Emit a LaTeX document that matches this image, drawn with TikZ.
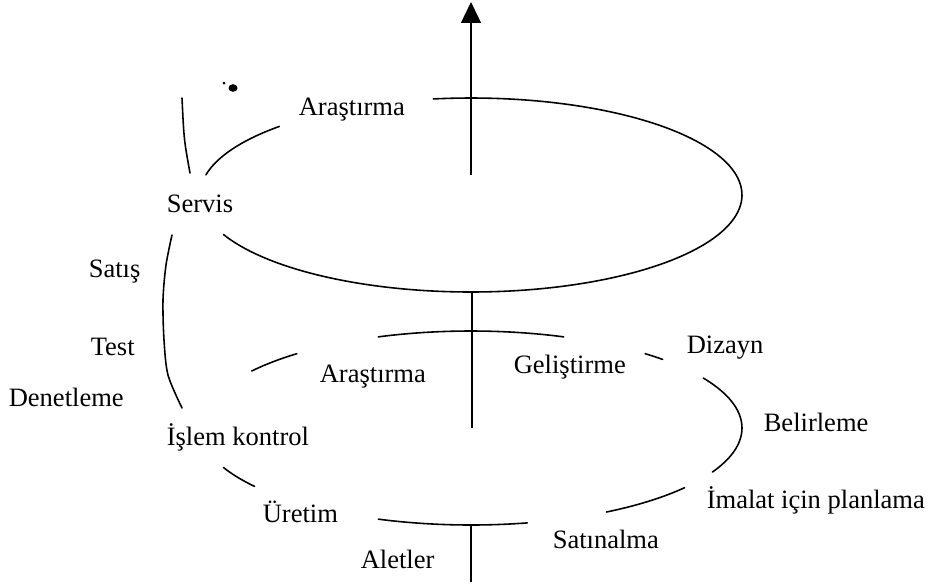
\documentclass[tikz,border=0pt]{standalone}
\usepackage{fontspec}
\setmainfont{Liberation Serif}
\usetikzlibrary{arrows.meta}
\begin{document}
\begin{tikzpicture}[x=0.02cm,y=-0.02cm, line width=0.9pt,
  lbl/.style={anchor=base west, inner sep=0pt, font=\fontsize{15.1}{16}\selectfont},
  curve/.style={line width=0.9pt, line cap=round}]
\useasboundingbox (0,0) rectangle (931,586);
% axis
\coordinate (axtop) at (471,2);
\coordinate (axa) at (471,175);
\coordinate (axb) at (472,292);
\coordinate (axc) at (472,428);
\coordinate (axd) at (471,525);
\coordinate (axe) at (471,582);
\draw[-{Triangle[length=11.9pt,width=11.3pt]}] (axa) -- (axtop);
\draw (axb) -- (axc);
\draw (axd) -- (axe);
% upper turn
\draw[curve] plot[domain=262:516, samples=140, smooth] ({471+271*cos(\x)},{195+97*sin(\x)});
\draw[curve] plot[domain=192:225, samples=30, smooth] ({471+271*cos(\x)},{195+97*sin(\x)});
% lower turn
\draw[curve] plot[domain=250:290, samples=30, smooth] ({471+271*cos(\x)},{428+97*sin(\x)});
\draw[curve] plot[domain=310:315, samples=8, smooth] ({471+271*cos(\x)},{428+97*sin(\x)});
\draw[curve] plot[domain=329:387, samples=40, smooth] ({471+271*cos(\x)},{428+97*sin(\x)});
\draw[curve] plot[domain=38:60, samples=20, smooth] ({471+271*cos(\x)},{428+97*sin(\x)});
\draw[curve] plot[domain=78:110, samples=30, smooth] ({471+271*cos(\x)},{428+97*sin(\x)});
\draw[curve] plot[domain=143:156, samples=12, smooth] ({471+271*cos(\x)},{428+97*sin(\x)});
\draw[curve] plot[domain=216:230, samples=12, smooth] ({471+271*cos(\x)},{428+97*sin(\x)});
% left connecting arcs
\draw[curve] plot[smooth] coordinates {(172,235) (166,265) (163,300) (164,340) (168,375) (182,408)};
\draw[curve] (182,98) .. controls (184,140) .. (190,173);
% speck
\fill (233,88) ellipse [x radius=4.5, y radius=3.8];
\fill (224,83) circle [radius=1.5];
% labels
\node[lbl] (ar1) at (298,115) {Araştırma};
\node[lbl] (servis) at (166,212) {Servis};
\node[lbl] (satis) at (88,277) {Satış};
\node[lbl] (test) at (90,355) {Test};
\node[lbl] (denet) at (8,406) {Denetleme};
\node[lbl] (islem) at (166,445) {İşlem kontrol};
\node[lbl] (uretim) at (262,522) {Üretim};
\node[lbl] (aletler) at (360,568) {Aletler};
\node[lbl] (ar2) at (319,382) {Araştırma};
\node[lbl] (gelis) at (513,373) {Geliştirme};
\node[lbl] (dizayn) at (686,353) {Dizayn};
\node[lbl] (belir) at (763,431) {Belirleme};
\node[lbl] (imalat) at (706,508) {İmalat için planlama};
\node[lbl] (satin) at (552,548) {Satınalma};
\end{tikzpicture}
\end{document}
